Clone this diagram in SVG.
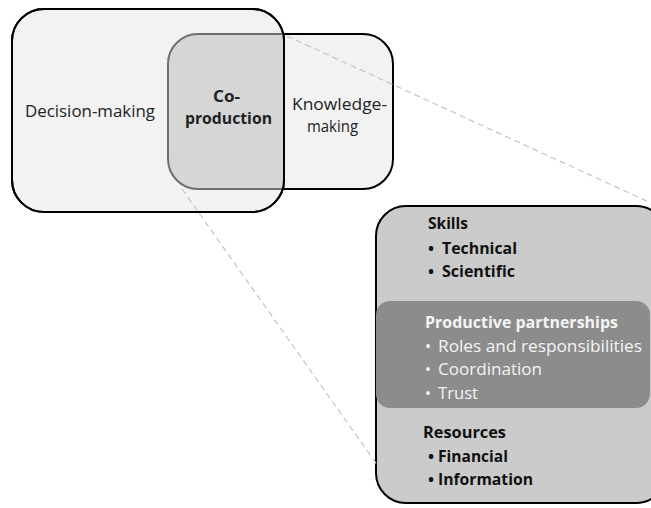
<svg xmlns="http://www.w3.org/2000/svg" width="651" height="508" viewBox="0 0 651 508">
<style>
  .box { stroke: #000; stroke-width: 2; }
  .t { font-family: "Open Sans", "Liberation Sans", Arial, sans-serif; font-size: 16px; fill: #222; }
  .b { font-weight: bold; }
  .d { font-family: "Open Sans", "Liberation Sans", Arial, sans-serif; font-size: 16px; fill: #111; }
  .w { fill: #f4f4f4; }
  .dash { stroke: #c4c4c4; stroke-width: 1.2; stroke-dasharray: 6 4; fill: none; }
</style>
<defs>
  <clipPath id="clipDM"><rect x="12" y="9" width="272" height="203" rx="32"/></clipPath>
</defs>
<rect width="651" height="508" fill="#fff"/>
<g id="knowledge-making">
  <rect class="box" x="168" y="34" width="225" height="155" rx="30" fill="#f2f2f2"/>
  <text class="t" x="292" y="110" textLength="95" lengthAdjust="spacingAndGlyphs">Knowledge-</text>
  <text class="t" x="307" y="132" textLength="51" lengthAdjust="spacingAndGlyphs">making</text>
</g>
<g id="decision-making">
  <rect class="box" x="12" y="9" width="272" height="203" rx="32" fill="#f2f2f2"/>
  <text class="t" x="25" y="117" textLength="130" lengthAdjust="spacingAndGlyphs">Decision-making</text>
</g>
<g id="co-production">
  <rect x="168" y="34" width="225" height="155" rx="30" fill="#d6d6d6" stroke="#6e6e6e" stroke-width="2" clip-path="url(#clipDM)"/>
  <rect x="12" y="9" width="272" height="203" rx="32" fill="none" class="box"/>
  <text class="t b" x="213" y="102" textLength="27" lengthAdjust="spacingAndGlyphs">Co-</text>
  <text class="t b" x="185" y="124" textLength="87" lengthAdjust="spacingAndGlyphs">production</text>
</g>
<g id="detail">
  <rect class="box" x="376" y="206" width="290" height="297" rx="30" fill="#cbcbcb"/>
  <rect x="376" y="301" width="274" height="107" rx="14" fill="#8c8c8c"/>
  <text class="d b" x="428" y="229" textLength="40" lengthAdjust="spacingAndGlyphs">Skills</text>
  <text class="d b" x="428" y="254">•</text>
  <text class="d b" x="442" y="254" textLength="75" lengthAdjust="spacingAndGlyphs">Technical</text>
  <text class="d b" x="428" y="277">•</text>
  <text class="d b" x="442" y="277" textLength="73" lengthAdjust="spacingAndGlyphs">Scientific</text>
  <text class="d b w" x="425" y="328" textLength="193" lengthAdjust="spacingAndGlyphs">Productive partnerships</text>
  <text class="d w" x="425" y="352">•</text>
  <text class="d w" x="438" y="352" textLength="204" lengthAdjust="spacingAndGlyphs">Roles and responsibilities</text>
  <text class="d w" x="425" y="375">•</text>
  <text class="d w" x="438" y="375" textLength="104" lengthAdjust="spacingAndGlyphs">Coordination</text>
  <text class="d w" x="425" y="399">•</text>
  <text class="d w" x="438" y="399" textLength="40" lengthAdjust="spacingAndGlyphs">Trust</text>
  <text class="d b" x="423" y="438" textLength="83" lengthAdjust="spacingAndGlyphs">Resources</text>
  <text class="d b" x="428" y="462">•</text>
  <text class="d b" x="438" y="462" textLength="70" lengthAdjust="spacingAndGlyphs">Financial</text>
  <text class="d b" x="428" y="485">•</text>
  <text class="d b" x="438" y="485" textLength="95" lengthAdjust="spacingAndGlyphs">Information</text>
</g>
<g id="connectors">
  <line class="dash" x1="287" y1="36" x2="651" y2="203"/>
  <line class="dash" x1="182" y1="189" x2="378" y2="466"/>
</g>
</svg>
